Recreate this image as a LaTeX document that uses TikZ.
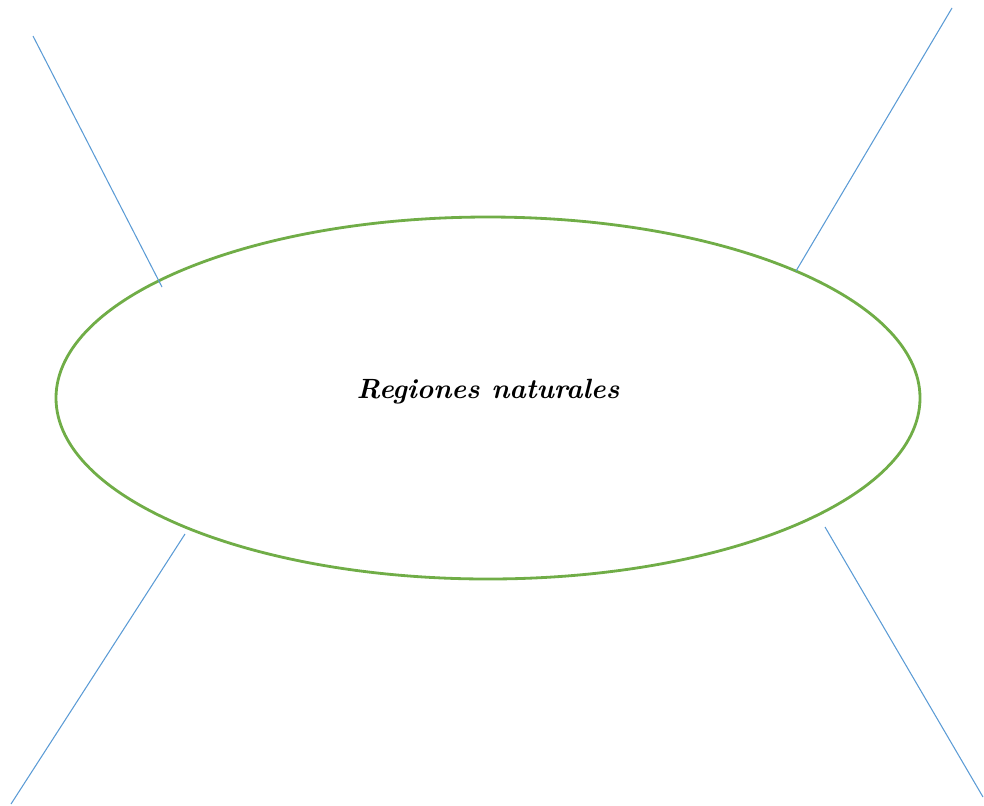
\documentclass[tikz,border=0pt]{standalone}
\usepackage{tikz}
\usetikzlibrary{shapes.geometric}
\usepackage{xcolor}
\definecolor{leafgreen}{HTML}{70AD47}
\definecolor{skyblue}{HTML}{5B9BD5}

\begin{document}
\begin{tikzpicture}[x=0.025cm,y=-0.025cm,
  spoke/.style={draw=skyblue,line width=0.75pt},
  region/.style={ellipse,draw=leafgreen,line width=2pt,minimum width=864*0.025cm,minimum height=362*0.025cm,inner sep=0pt}]
\useasboundingbox (0,0) rectangle (984,805);
\node[region] (regiones) at (488,398) {};
\node[font=\fontsize{19.8}{24}\selectfont\bfseries\itshape] (titulo) at (488,392) {Regiones naturales};
% ends of the four spokes
\coordinate (tlin) at (162,287); \coordinate (tlout) at (33,36);
\coordinate (trin) at (796,271); \coordinate (trout) at (952,8);
\coordinate (blin) at (185,534); \coordinate (blout) at (11,804);
\coordinate (brin) at (825,527); \coordinate (brout) at (983,797);
\draw[spoke] (tlin) -- (tlout);
\draw[spoke] (trin) -- (trout);
\draw[spoke] (blin) -- (blout);
\draw[spoke] (brin) -- (brout);
\end{tikzpicture}
\end{document}
